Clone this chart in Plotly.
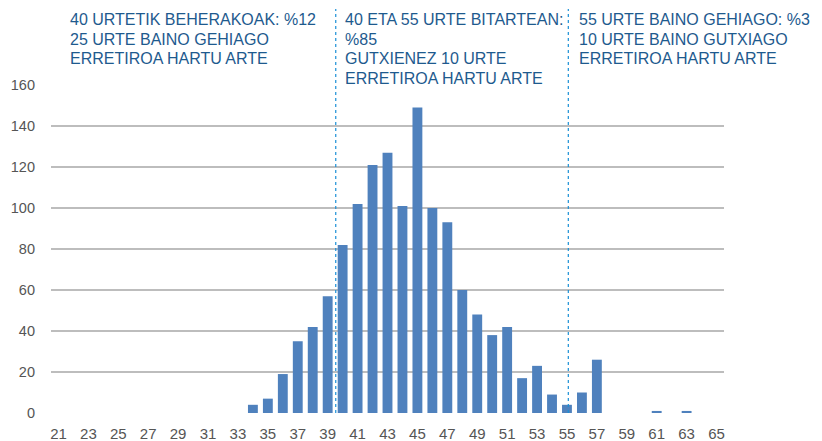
import plotly.graph_objects as go

ages = list(range(21, 66))
counts = [0]*13 + [4, 7, 19, 35, 42, 57, 82, 102, 121, 127, 101, 149, 100, 93, 60, 48, 38, 42,
                   17, 23, 9, 4, 10, 26, 0, 0, 0, 1, 0, 1, 0, 0]
tick_vals = list(range(21, 66, 2))
y_ticks = list(range(0, 161, 20))

text_blocks = [
    ["40 URTETIK BEHERAKOAK: %12", "25 URTE BAINO GEHIAGO", "ERRETIROA HARTU ARTE"],
    ["40 ETA 55 URTE BITARTEAN:", "%85", "GUTXIENEZ 10 URTE", "ERRETIROA HARTU ARTE"],
    ["55 URTE BAINO GEHIAGO: %3", "10 URTE BAINO GUTXIAGO", "ERRETIROA HARTU ARTE"],
]
text_x = [68, 343, 577]
divider_x = [39.54, 55.09]

# page offset (body margin) = 8 px
OFF = 8
L, R, T, B = 51 - OFF, 98, 85 - OFF, 28
W, H = 822 - OFF, 441 - OFF
plot_w = W - L - R
plot_h = H - T - B
plot_bottom = H - B


def py(page_y):
    return (plot_bottom - (page_y - OFF)) / plot_h


def px(page_x):
    return (page_x - OFF - L) / plot_w


fig = go.Figure()
fig.add_trace(go.Bar(x=ages, y=counts, marker=dict(color="#4f81bd", line=dict(width=0)),
                     width=0.66))

for xv in divider_x:
    fig.add_shape(type="line", xref="x", yref="paper", x0=xv, x1=xv, y0=0, y1=py(9),
                  line=dict(color="#1a8fd6", width=1.2, dash="dot"), layer="above")

for lines, x0 in zip(text_blocks, text_x):
    for i, line in enumerate(lines):
        fig.add_annotation(text=line, xref="paper", yref="paper", x=px(x0), y=py(20 + 19.5 * i),
                           xanchor="left", yanchor="middle", align="left", showarrow=False,
                           font=dict(family="Liberation Sans, Arial, sans-serif", size=16, color="#1e5a8e"))

fig.update_layout(
    width=W, height=H,
    margin=dict(l=L, r=R, t=T, b=B, autoexpand=False),
    paper_bgcolor="white", plot_bgcolor="white",
    showlegend=False,
    font=dict(family="Liberation Sans, Arial, sans-serif", size=15, color="#555555"),
    xaxis=dict(range=[20.5, 65.5], tickvals=tick_vals, showgrid=False, zeroline=False, automargin=False,
               ticks="", showline=False, ticklabelstandoff=10, tickfont=dict(size=15, color="#555555")),
    yaxis=dict(range=[0, 160], tickvals=y_ticks, showgrid=True, gridcolor="#bdbdbd", gridwidth=1.5,
               zeroline=False, ticks="", ticklabelstandoff=15, automargin=False,
               tickfont=dict(size=14.5, color="#555555"), showline=False),
)
fig.write_html("out.html")
